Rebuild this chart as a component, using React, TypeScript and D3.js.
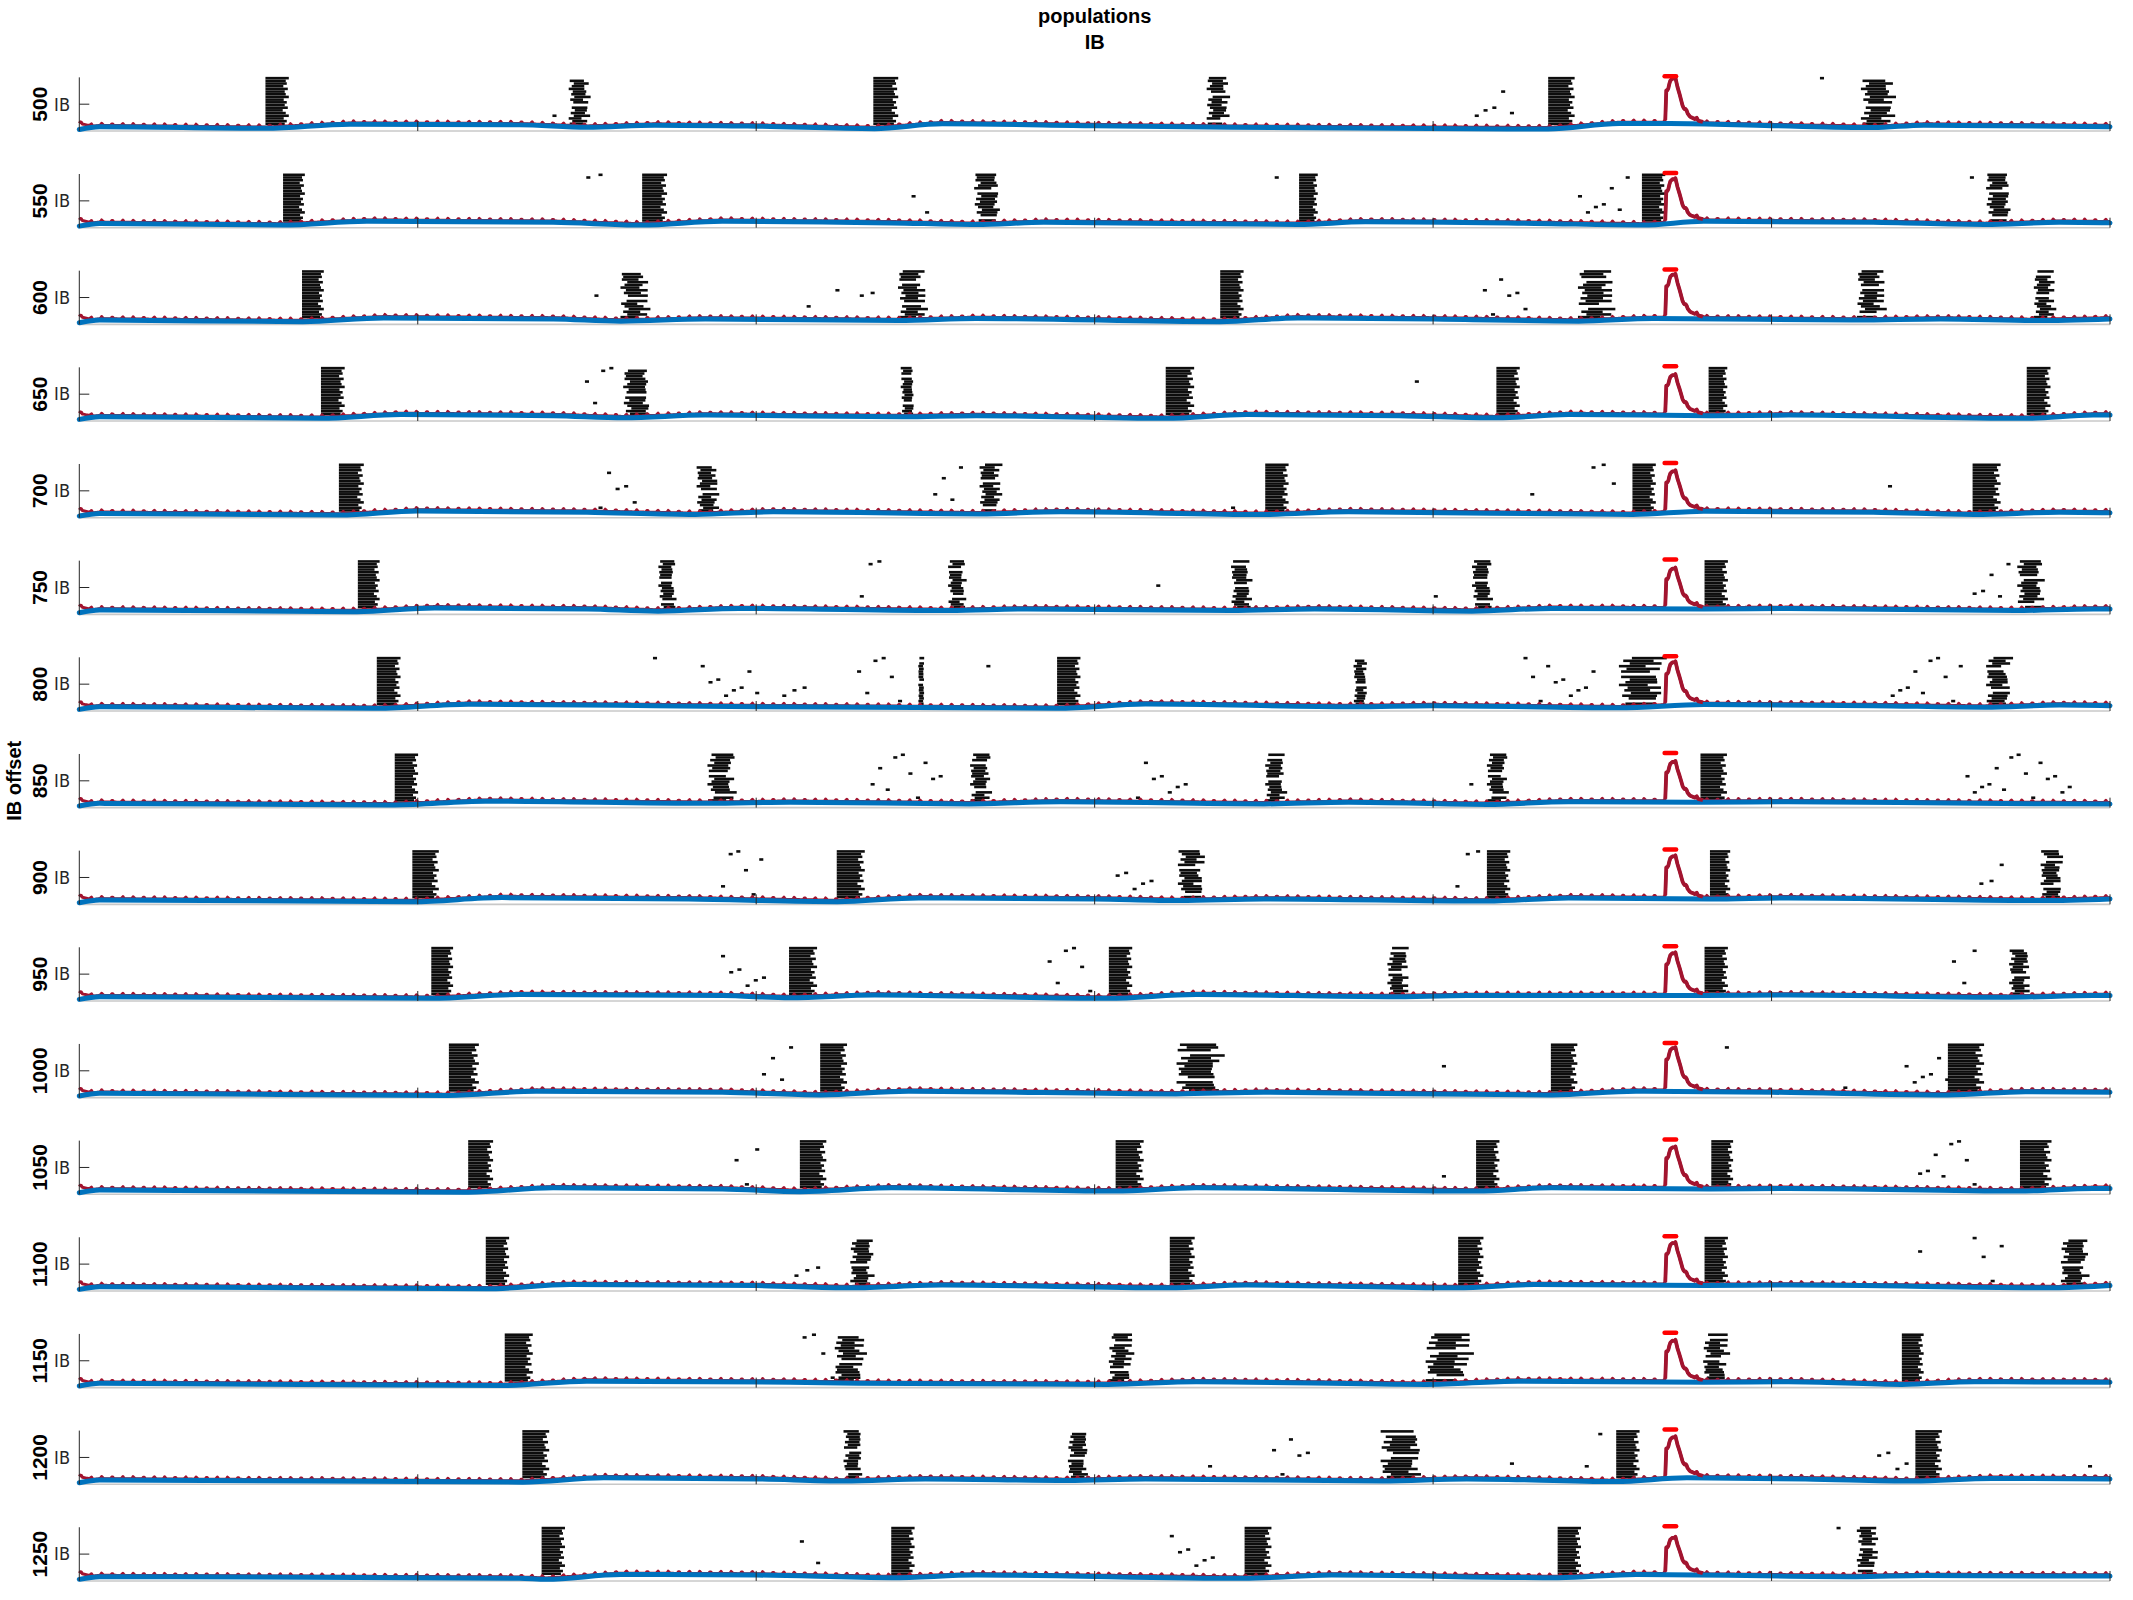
import React, { useEffect, useRef } from 'react';
import * as d3 from 'd3';

const WIDTH = 2133;
const HEIGHT = 1600;

// IB offset of each row of panels
const OFFSETS = [500, 550, 600, 650, 700, 750, 800, 850, 900, 950, 1000, 1050, 1100, 1150, 1200, 1250];
const X_TICKS = [1000, 2000, 3000, 4000, 5000, 6000];

// bursts per panel: [start ms, end ms, kind]  s = solid column, l = loose column, d = scattered spikes
const BURSTS: [number, number, string][][] = [
  [[550, 610, 's'], [1398, 1398, 'd'], [1446, 1506, 'l'], [2346, 2410, 's'], [3331, 3395, 'l'], [4123, 4227, 'd'], [4340, 4408, 's'], [5143, 5143, 'd'], [5264, 5360, 'l']],
  [[602, 658, 's'], [1498, 1534, 'd'], [1663, 1727, 's'], [2459, 2499, 'd'], [2644, 2720, 'l'], [3532, 3532, 'd'], [3604, 3652, 's'], [4428, 4569, 'd'], [4617, 4677, 's'], [5586, 5586, 'd'], [5634, 5706, 'l']],
  [[658, 714, 's'], [1522, 1522, 'd'], [1599, 1679, 'l'], [2149, 2169, 'd'], [2234, 2234, 'd'], [2306, 2338, 'd'], [2419, 2499, 'l'], [3371, 3431, 's'], [4147, 4267, 'd'], [4428, 4528, 'l'], [5252, 5332, 'l'], [5775, 5835, 'l']],
  [[714, 775, 's'], [1494, 1566, 'd'], [1607, 1687, 'l'], [2427, 2467, 'l'], [3210, 3283, 's'], [3946, 3946, 'd'], [4187, 4247, 's'], [4814, 4862, 's'], [5754, 5815, 's']],
  [[767, 831, 's'], [1534, 1635, 'd'], [1824, 1888, 'l'], [2523, 2599, 'd'], [2660, 2724, 'l'], [3403, 3403, 'd'], [3504, 3564, 's'], [4287, 4287, 'd'], [4468, 4528, 'd'], [4589, 4649, 's'], [5344, 5344, 'd'], [5594, 5666, 's']],
  [[823, 879, 's'], [1711, 1763, 'l'], [2306, 2358, 'd'], [2567, 2619, 'l'], [3182, 3182, 'd'], [3403, 3463, 'l'], [4002, 4002, 'd'], [4115, 4175, 'l'], [4802, 4862, 's'], [5594, 5694, 'd'], [5726, 5803, 'l']],
  [[879, 940, 's'], [1695, 1695, 'd'], [1836, 1997, 'd'], [2077, 2137, 'd'], [2298, 2419, 'd'], [2479, 2490, 'l'], [2680, 2680, 'd'], [2889, 2949, 's'], [3765, 3805, 'l'], [4267, 4468, 'd'], [4549, 4677, 'l'], [5352, 5553, 'd'], [5634, 5706, 'l']],
  [[932, 992, 's'], [1856, 1936, 'l'], [2338, 2539, 'd'], [2632, 2692, 'l'], [3122, 3263, 'd'], [3504, 3564, 'l'], [4107, 4107, 'd'], [4159, 4219, 'l'], [4790, 4858, 's'], [5573, 5875, 'd']],
  [[984, 1052, 's'], [1896, 2009, 'd'], [2238, 2310, 's'], [3062, 3162, 'd'], [3246, 3323, 'l'], [4066, 4127, 'd'], [4159, 4219, 's'], [4818, 4870, 's'], [5614, 5674, 'd'], [5795, 5859, 'l']],
  [[1040, 1096, 's'], [1896, 2017, 'd'], [2097, 2169, 's'], [2861, 2981, 'd'], [3042, 3102, 's'], [3865, 3926, 'l'], [4802, 4862, 's'], [5533, 5594, 'd'], [5702, 5762, 'l']],
  [[1092, 1169, 's'], [2017, 2097, 'd'], [2189, 2258, 's'], [3242, 3375, 'l'], [4026, 4026, 'd'], [4348, 4416, 's'], [4862, 4862, 'd'], [5212, 5212, 'd'], [5393, 5513, 'd'], [5521, 5614, 's']],
  [[1149, 1213, 's'], [1936, 1997, 'd'], [2129, 2197, 's'], [3062, 3134, 's'], [4026, 4026, 'd'], [4127, 4187, 's'], [4822, 4878, 's'], [5433, 5594, 'd'], [5734, 5815, 's']],
  [[1201, 1261, 's'], [2113, 2177, 'd'], [2278, 2346, 'l'], [3222, 3286, 's'], [4074, 4139, 's'], [4802, 4862, 's'], [5433, 5433, 'd'], [5594, 5674, 'd'], [5855, 5935, 'l']],
  [[1257, 1329, 's'], [2137, 2220, 'd'], [2230, 2318, 'l'], [3042, 3110, 'l'], [3978, 4107, 'l'], [4798, 4870, 'l'], [5385, 5441, 's']],
  [[1309, 1378, 's'], [2258, 2314, 'l'], [2921, 2981, 'l'], [3335, 3335, 'd'], [3524, 3624, 'd'], [3845, 3966, 'l'], [4227, 4227, 'd'], [4448, 4488, 'd'], [4541, 4601, 's'], [5312, 5393, 'd'], [5425, 5493, 's'], [5935, 5935, 'd']],
  [[1366, 1426, 's'], [2129, 2177, 'd'], [2399, 2459, 's'], [3222, 3343, 'd'], [3443, 3512, 's'], [4368, 4428, 's'], [5192, 5192, 'd'], [5252, 5312, 'l']],
];

// blue trace knots per panel: [ms, level]
const BLUE_KNOTS: [number, number][][] = [
  [[0, .03], [60, .08], [550, .05], [800, .125], [1300, .115], [1500, .07], [1700, .11], [2000, .09], [2350, .045], [2550, .135], [3000, .1], [3400, .07], [4340, .04], [4550, .14], [4700, .14], [5000, .1], [5300, .065], [5450, .11], [6000, .08]],
  [[0, .03], [60, .08], [600, .05], [850, .12], [1400, .1], [1660, .05], [1900, .12], [2400, .09], [2650, .06], [2850, .1], [3600, .06], [3800, .11], [4300, .08], [4620, .05], [4800, .12], [5300, .1], [5630, .06], [5850, .1], [6000, .09]],
  [[0, .03], [60, .08], [660, .05], [900, .12], [1400, .1], [1600, .06], [1850, .1], [2420, .07], [2650, .11], [3370, .05], [3600, .12], [4000, .1], [4430, .06], [4650, .11], [5250, .08], [5500, .1], [5780, .07], [6000, .1]],
  [[0, .03], [60, .08], [715, .05], [950, .12], [1400, .1], [1610, .06], [1850, .11], [2430, .08], [2650, .1], [3210, .05], [3450, .12], [3900, .1], [4190, .06], [4400, .12], [4820, .1], [5050, .11], [5750, .05], [5950, .11], [6000, .11]],
  [[0, .03], [60, .08], [770, .05], [1000, .125], [1500, .1], [1820, .06], [2050, .11], [2660, .07], [2900, .11], [3500, .06], [3750, .11], [4590, .06], [4800, .12], [5300, .1], [5600, .06], [5850, .1], [6000, .09]],
  [[0, .03], [60, .08], [820, .05], [1050, .12], [1500, .1], [1710, .06], [1950, .11], [2570, .07], [2800, .1], [3400, .07], [3650, .1], [4115, .06], [4350, .11], [4800, .1], [5050, .11], [5720, .07], [5950, .1], [6000, .1]],
  [[0, .03], [60, .08], [880, .05], [1150, .125], [1700, .1], [2000, .08], [2890, .05], [3150, .13], [3765, .08], [4000, .1], [4550, .06], [4800, .12], [5300, .1], [5630, .07], [5850, .11], [6000, .1]],
  [[0, .03], [60, .08], [930, .05], [1200, .12], [1860, .08], [2100, .1], [2630, .07], [2900, .11], [3500, .07], [3750, .1], [4160, .06], [4400, .11], [4800, .1], [5050, .11], [5600, .08], [6000, .07]],
  [[0, .03], [60, .08], [985, .05], [1250, .125], [1800, .1], [2240, .05], [2480, .12], [3000, .1], [3250, .07], [3500, .1], [4160, .06], [4400, .12], [4820, .1], [5050, .12], [5800, .07], [6000, .1]],
  [[0, .03], [60, .08], [1040, .05], [1300, .12], [1900, .1], [2100, .06], [2350, .11], [3040, .05], [3300, .12], [3870, .08], [4100, .1], [4800, .1], [5050, .11], [5700, .07], [5950, .1], [6000, .1]],
  [[0, .03], [60, .08], [1090, .04], [1350, .12], [1900, .1], [2190, .05], [2450, .12], [3240, .07], [3500, .1], [4350, .05], [4600, .12], [5000, .1], [5520, .05], [5750, .11], [6000, .1]],
  [[0, .03], [60, .08], [1150, .04], [1400, .12], [1900, .1], [2130, .05], [2400, .12], [3060, .06], [3300, .12], [4130, .06], [4350, .12], [4820, .1], [5050, .11], [5730, .06], [5950, .11], [6000, .11]],
  [[0, .03], [60, .08], [1200, .04], [1450, .12], [2000, .1], [2280, .06], [2550, .11], [3220, .06], [3450, .11], [4070, .06], [4300, .12], [4800, .1], [5050, .11], [5850, .06], [6000, .1]],
  [[0, .03], [60, .08], [1255, .04], [1500, .12], [2100, .1], [2300, .08], [3040, .06], [3300, .11], [3980, .06], [4250, .12], [4800, .1], [5050, .11], [5385, .06], [5600, .11], [6000, .1]],
  [[0, .03], [60, .08], [1310, .04], [1550, .12], [2000, .1], [2260, .06], [2500, .1], [2920, .07], [3150, .1], [3850, .06], [4100, .1], [4540, .05], [4750, .12], [5100, .1], [5420, .06], [5650, .11], [6000, .1]],
  [[0, .03], [60, .08], [1300, .05], [1380, .03], [1600, .12], [2000, .11], [2400, .06], [2650, .11], [3440, .05], [3700, .11], [4370, .06], [4600, .12], [5250, .08], [5450, .1], [6000, .09]],
];

// stimulus response on the red trace: [ms after onset, height above baseline]
const PEAK_ONSET = 4688;
const PEAK_SHAPE: [number, number][] = [[-2, 0], [0, 0.58], [6, 0.6], [12, 0.77], [20, 0.82], [28, 0.79], [41, 0.51], [50, 0.29], [71, 0.11], [95, 0.04], [121, 0]];
const PEAK_TOP = [0.95, 0.93, 0.93, 0.86, 0.88, 0.86, 0.92, 0.86, 0.9, 0.9, 0.92, 0.88, 0.9, 0.88, 0.88, 0.8];
const RED_BUMP_PERIOD = 31;

// row patterns of the raster
const N_ROWS = 18;
const ROW_LEN = [0.95, 1.05, 0.9, 1.15, 1, 0.85, 1.1, 0.95, 1.05, 0.9, 1.15, 1, 0.95, 1.1, 0.88, 1.05, 1, 1.15];
const ROW_SHIFT = [0.1, 0.35, 0, 0.5, 0.2, 0.6, 0.3, 0.05, 0.45, 0.15, 0.55, 0.25, 0.4, 0, 0.3, 0.5, 0.1, 0.2];
const LOOSE_SKIP = [5, 13];
const DOT_ROWS = [14, 6, 10, 3, 16, 8, 12, 1, 5, 17, 9, 4];

const FONT = '"Liberation Sans", Arial, sans-serif';
const NARROW = '"Liberation Sans Narrow", "DejaVu Sans Condensed", Arial, sans-serif';

const PANEL_MID0 = 104.2;
const PANEL_STEP = 96.66;
const PANEL_HALF = 26.85;

const App = () => {
  const svgRef = useRef<SVGSVGElement>(null);

  useEffect(() => {
    const svg = d3.select(svgRef.current);
    svg.selectAll('*').remove();
    svg.append('rect').attr('width', WIDTH).attr('height', HEIGHT).attr('fill', 'white');

    const x = d3.scaleLinear().domain([0, 6000]).range([79.3, 2110]);

    // title
    svg.append('text').attr('x', 1094.7).attr('y', 23).attr('text-anchor', 'middle')
      .attr('font-family', FONT).attr('font-weight', 'bold').attr('font-size', 20).text('populations');
    svg.append('text').attr('x', 1094.7).attr('y', 49).attr('text-anchor', 'middle')
      .attr('font-family', FONT).attr('font-weight', 'bold').attr('font-size', 20).text('IB');

    // shared y label
    const labelY = PANEL_MID0 + 7 * PANEL_STEP;
    svg.append('text').attr('transform', `translate(21,${labelY}) rotate(-90)`).attr('text-anchor', 'middle')
      .attr('font-family', FONT).attr('font-weight', 'bold').attr('font-size', 20).text('IB offset');

    OFFSETS.forEach((off, i) => {
      const mid = PANEL_MID0 + i * PANEL_STEP;
      const y = d3.scaleLinear().domain([0, 1]).range([mid + PANEL_HALF, mid - PANEL_HALF]);
      const g = svg.append('g');

      // zero line
      g.append('line').attr('x1', x(0)).attr('x2', x(6000)).attr('y1', y(0)).attr('y2', y(0))
        .attr('stroke', '#c8c8c8').attr('stroke-width', 1.6);

      // raster
      const rowV = (r: number) => 0.135 + r * 0.05;
      const dash = (t0: number, t1: number, r: number) => {
        g.append('rect').attr('x', x(t0)).attr('y', y(rowV(r) + 0.024))
          .attr('width', Math.max(4, x(t1) - x(t0))).attr('height', y(rowV(r) - 0.024) - y(rowV(r) + 0.024))
          .attr('fill', '#0d0d0d');
      };
      BURSTS[i].forEach(([s, e, kind], bi) => {
        const w = e - s;
        if (kind === 's') {
          for (let r = 0; r < N_ROWS; r++) dash(s, s + w * ROW_LEN[r], r);
        } else if (kind === 'l') {
          for (let r = 0; r < N_ROWS; r++) {
            if (LOOSE_SKIP.includes((r + bi * 3) % N_ROWS)) continue;
            const a = s + w * ROW_SHIFT[(r + i) % N_ROWS] * 0.5;
            dash(a, a + Math.max(14, w * 0.7 * ROW_LEN[r]), r);
          }
        } else {
          const n = Math.max(1, Math.round(w / 20));
          for (let k = 0; k < n; k++) {
            const t = n > 1 ? s + (w * k) / (n - 1) : s;
            dash(t, t + 12, DOT_ROWS[(k * 5 + i + bi * 3) % DOT_ROWS.length]);
          }
        }
      });

      // blue trace and red trace
      const knots = BLUE_KNOTS[i];
      const blueAt = d3.scaleLinear().domain(knots.map(k => k[0])).range(knots.map(k => k[1])).clamp(true);
      const peakScale = (PEAK_TOP[i] - 0.13) / 0.82;
      const peakAt = d3.scaleLinear().domain(PEAK_SHAPE.map(p => p[0])).range(PEAK_SHAPE.map(p => p[1])).clamp(true);

      const redPts: [number, number][] = [];
      for (let t = 0; t <= 6000; t += 3) {
        let v = blueAt(t) + 0.025;
        const ph = t % RED_BUMP_PERIOD;
        if (ph < 9) v += 0.045 * (1 - Math.abs(ph - 4.5) / 4.5);
        if (t < 40) v += 0.09 * (1 - t / 40);
        const dt = t - PEAK_ONSET;
        if (dt >= -2 && dt <= 121) v += peakAt(dt) * peakScale;
        redPts.push([t, v]);
      }
      const line = d3.line<[number, number]>().x(d => x(d[0])).y(d => y(d[1]));
      g.append('path').attr('d', line(redPts)).attr('fill', 'none')
        .attr('stroke', '#a2142f').attr('stroke-width', 3).attr('stroke-linejoin', 'round');

      g.append('path').attr('d', d3.line<[number, number]>().x(d => x(d[0])).y(d => y(d[1])).curve(d3.curveMonotoneX)(knots))
        .attr('fill', 'none').attr('stroke', '#0072bd').attr('stroke-width', 5).attr('stroke-linecap', 'round');

      // redraw the peak on top of the blue trace
      const peakPts = redPts.filter(d => d[0] >= PEAK_ONSET - 3 && d[0] <= PEAK_ONSET + 110);
      g.append('path').attr('d', line(peakPts)).attr('fill', 'none')
        .attr('stroke', '#a2142f').attr('stroke-width', 3.8).attr('stroke-linejoin', 'round');

      // stimulus marker
      g.append('line').attr('x1', x(PEAK_ONSET - 4)).attr('x2', x(PEAK_ONSET + 30))
        .attr('y1', y(1.02)).attr('y2', y(1.02)).attr('stroke', '#ff0000').attr('stroke-width', 4.5).attr('stroke-linecap', 'round');

      // axes
      g.append('line').attr('x1', x(0)).attr('x2', x(0)).attr('y1', y(1)).attr('y2', y(0))
        .attr('stroke', '#262626').attr('stroke-width', 1);
      g.append('line').attr('x1', x(0)).attr('x2', x(0) + 10).attr('y1', y(0.5)).attr('y2', y(0.5))
        .attr('stroke', '#262626').attr('stroke-width', 1);
      X_TICKS.forEach(t => {
        g.append('line').attr('x1', x(t)).attr('x2', x(t)).attr('y1', y(0)).attr('y2', y(0) - 10)
          .attr('stroke', '#262626').attr('stroke-width', 1);
      });
      g.append('text').attr('x', 70).attr('y', y(0.5)).attr('dy', '0.35em').attr('text-anchor', 'end')
        .attr('font-family', NARROW).attr('font-size', 18).attr('fill', '#262626').text('IB');
      g.append('text').attr('transform', `translate(39,${y(0.5)}) rotate(-90)`).attr('dy', '0.36em')
        .attr('text-anchor', 'middle').attr('font-family', FONT).attr('font-weight', 'bold')
        .attr('font-size', 21).attr('fill', '#000').text(String(off));
    });
  }, []);

  return (
    <div style={{ position: 'absolute', left: 0, top: 0 }}>
      <svg ref={svgRef} width={WIDTH} height={HEIGHT} />
    </div>
  );
};

export default App;
